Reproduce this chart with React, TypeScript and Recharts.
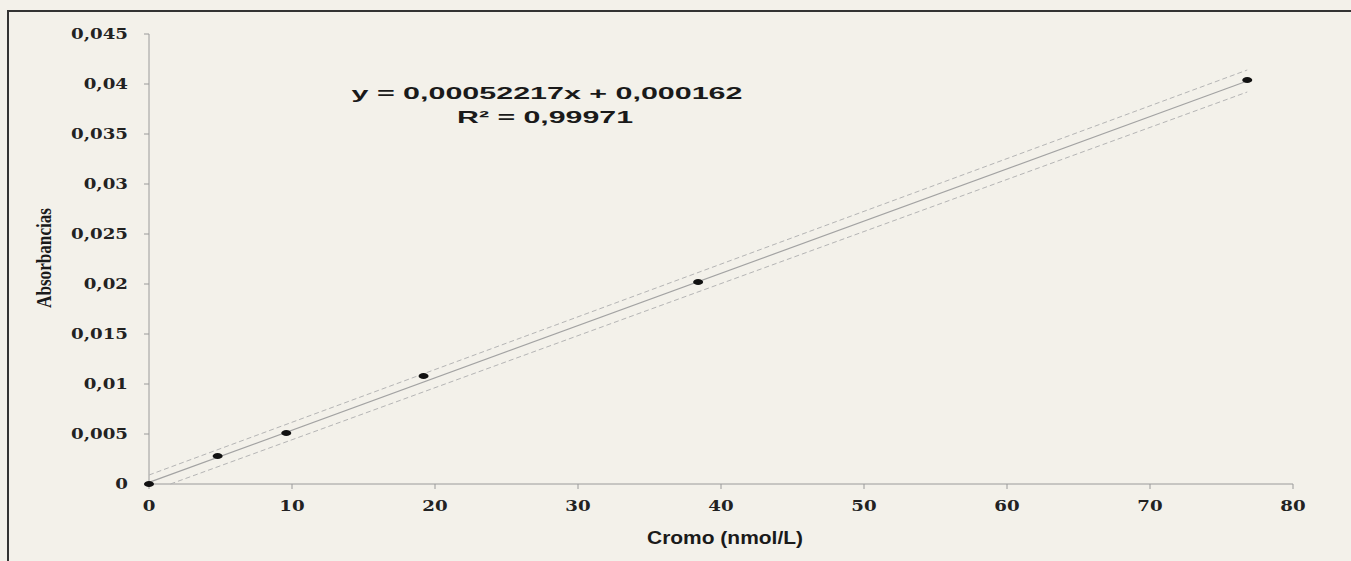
import { ScatterChart, Scatter, XAxis, YAxis } from 'recharts'

// calibration points
const standards = [
  { x: 0, y: 0 },
  { x: 4.8, y: 0.0028 },
  { x: 9.6, y: 0.0051 },
  { x: 19.2, y: 0.0108 },
  { x: 38.4, y: 0.0202 },
  { x: 76.8, y: 0.0404 },
]

// fitted line and the dashed band, endpoints only
const fitLine = [
  { x: 0, y: 0.00016 },
  { x: 76.8, y: 0.0403 },
]
const upperBand = [
  { x: 0, y: 0.0009 },
  { x: 76.8, y: 0.0414 },
]
const lowerBand = [
  { x: 1.5, y: 0 },
  { x: 76.8, y: 0.0392 },
]

const xTicks = [0, 10, 20, 30, 40, 50, 60, 70, 80]
const yTicks = [0, 0.005, 0.01, 0.015, 0.02, 0.025, 0.03, 0.035, 0.04, 0.045]

const equationText = 'y = 0,00052217x + 0,000162'
const r2Text = 'R² = 0,99971'
const xTitle = 'Cromo (nmol/L)'
const yTitle = 'Absorbancias'

const BG = '#f3f1ea'
const AXIS = '#9a9a9a'
const TICK_FONT = '"DejaVu Serif", serif'

function fmt(v: number) {
  return String(v).replace('.', ',')
}

function YTick({ x, y, payload }: any) {
  return (
    <text
      transform={`translate(${x},${y + 5}) scale(1.3,1)`}
      textAnchor="end"
      fontFamily={TICK_FONT}
      fontWeight="bold"
      fontSize={14}
      fill="#222"
    >
      {fmt(payload.value)}
    </text>
  )
}

function XTick({ x, y, payload }: any) {
  return (
    <text
      transform={`translate(${x},${y + 10}) scale(1.3,1)`}
      textAnchor="middle"
      fontFamily={TICK_FONT}
      fontWeight="bold"
      fontSize={14}
      fill="#222"
    >
      {fmt(payload.value)}
    </text>
  )
}

function Dot({ cx, cy }: any) {
  return <ellipse cx={cx} cy={cy} rx={5} ry={3} fill="#111" />
}

const noShape = () => <g />

export default function App() {
  return (
    <div
      style={{
        position: 'absolute',
        left: 0,
        top: 0,
        width: 1351,
        height: 561,
        background: BG,
        overflow: 'hidden',
      }}
    >
      <div
        style={{
          position: 'absolute',
          left: 7,
          top: 10,
          width: 1400,
          height: 600,
          borderLeft: '2px solid #333',
          borderTop: '2px solid #333',
        }}
      />
      <div style={{ position: 'absolute', left: 0, top: 0 }}>
        <ScatterChart width={1351} height={561} margin={{ top: 34, right: 58, bottom: 47, left: 49 }}>
          <XAxis
            type="number"
            dataKey="x"
            domain={[0, 80]}
            ticks={xTicks}
            height={30}
            stroke={AXIS}
            tickSize={5}
            tickMargin={12}
            tick={<XTick />}
          />
          <YAxis
            type="number"
            dataKey="y"
            domain={[0, 0.045]}
            ticks={yTicks}
            width={100}
            stroke={AXIS}
            tickSize={5}
            tickMargin={16}
            tick={<YTick />}
          />
          <Scatter
            data={upperBand}
            line={{ stroke: '#b5b5b5', strokeWidth: 1, strokeDasharray: '5 3' }}
            shape={noShape}
            isAnimationActive={false}
          />
          <Scatter
            data={lowerBand}
            line={{ stroke: '#b5b5b5', strokeWidth: 1, strokeDasharray: '5 3' }}
            shape={noShape}
            isAnimationActive={false}
          />
          <Scatter
            data={fitLine}
            line={{ stroke: '#a3a3a3', strokeWidth: 1.2 }}
            shape={noShape}
            isAnimationActive={false}
          />
          <Scatter data={standards} shape={<Dot />} isAnimationActive={false} />
        </ScatterChart>
      </div>
      <svg
        width={1351}
        height={561}
        style={{ position: 'absolute', left: 0, top: 0, pointerEvents: 'none' }}
      >
        <text
          x={547}
          y={99}
          textAnchor="middle"
          textLength={391}
          lengthAdjust="spacingAndGlyphs"
          fontFamily='"Liberation Sans", Arial, sans-serif'
          fontWeight="bold"
          fontSize={16.5}
          fill="#1a1a1a"
        >
          {equationText}
        </text>
        <text
          x={545}
          y={123}
          textAnchor="middle"
          textLength={176}
          lengthAdjust="spacingAndGlyphs"
          fontFamily='"Liberation Sans", Arial, sans-serif'
          fontWeight="bold"
          fontSize={16.5}
          fill="#1a1a1a"
        >
          {r2Text}
        </text>
        <text
          x={725}
          y={544}
          textAnchor="middle"
          textLength={156}
          lengthAdjust="spacingAndGlyphs"
          fontFamily='"Liberation Sans", Arial, sans-serif'
          fontWeight="bold"
          fontSize={19}
          fill="#1a1a1a"
        >
          {xTitle}
        </text>
        <text
          transform="translate(51,258) rotate(-90)"
          textAnchor="middle"
          textLength={100}
          lengthAdjust="spacingAndGlyphs"
          fontFamily='"Liberation Serif", serif'
          fontWeight="bold"
          fontSize={21}
          fill="#1a1a1a"
        >
          {yTitle}
        </text>
      </svg>
    </div>
  )
}
